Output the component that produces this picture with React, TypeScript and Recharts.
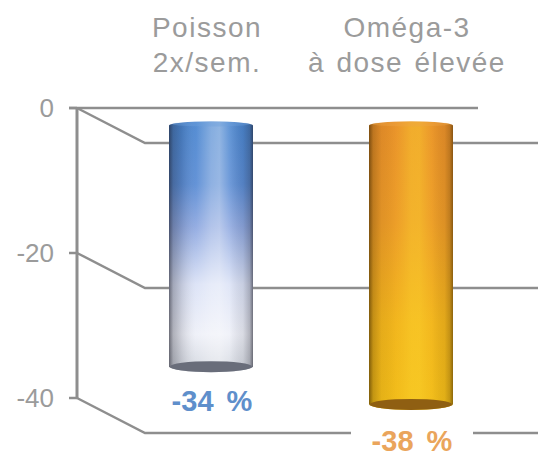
import { Bar, BarChart, CartesianGrid, LabelList, XAxis, YAxis } from "recharts";

const categories = ["Poisson|2x/sem.", "Oméga-3|à dose élevée"];
// bar ends as drawn in the picture, the printed labels differ slightly
const barValues = [-33.2, -38.4];
const valueLabels = ["-34 %", "-38 %"];
const labelColors = ["#5f8fcb", "#eaa55c"];
const yTicks = [0, -20, -40];

const bodyFills = ["url(#blueBody)", "url(#orangeBody)"];
const shadeFills = ["url(#blueShade)", "url(#orangeShade)"];
const capColors = ["#696d7a", "#8f5f12"];
const topColors = ["#6f9fdc", "#eea646"];

const FONT = "'Liberation Sans', Arial, sans-serif";
const LINE = "#8e8e8e";
const TEXT = "#9b9b9b";
// half of the floor depth, bars stand in the middle of it
const DX = 34;
const DY = 17.5;

const data = categories.map((name, i) => ({ name, value: barValues[i] }));

function Cylinder(props: any) {
  const { x, y, width, height, index } = props;
  const left = x + DX;
  const right = left + width;
  const top = Math.min(y, y + height) + DY;
  const bottom = Math.max(y, y + height) + DY;
  const rx = width / 2;
  const d = `M${left} ${top} A${rx} 4 0 0 1 ${right} ${top} L${right} ${bottom} A${rx} 6 0 0 1 ${left} ${bottom} Z`;
  return (
    <g>
      <path d={d} fill={bodyFills[index]} />
      <path d={d} fill={shadeFills[index]} />
      <ellipse cx={left + rx} cy={top - 1.5} rx={rx - 3} ry={2.5} fill={topColors[index]} opacity={0.4} />
      <ellipse cx={left + rx} cy={bottom + 0.5} rx={rx - 1} ry={5.5} fill={capColors[index]} />
    </g>
  );
}

function GridLine(props: any) {
  const { x1, y1, x2 } = props;
  const isTop = y1 === 108;
  return (
    <g fill="none" stroke={LINE}>
      {isTop && <line x1={x1 - 8} y1={y1} x2={x2 + 1} y2={y1} strokeWidth={2.5} />}
      <polyline points={`${x1},${y1} ${x1 + 68},${y1 + 35} 538,${y1 + 35}`} strokeWidth={2.5} />
    </g>
  );
}

function CategoryTick(props: any) {
  const { x, payload } = props;
  const lines = String(payload.value).split("|");
  return (
    <g>
      {lines.map((line, i) => (
        <text
          key={line}
          x={x + 30}
          y={37 + i * 35}
          textAnchor="middle"
          fontFamily={FONT}
          fontSize={28}
          letterSpacing={1.5}
          wordSpacing={2}
          fill={TEXT}
        >
          {line}
        </text>
      ))}
    </g>
  );
}

function ValueLabel(props: any) {
  const { x, y, width, height, index } = props;
  const cx = x + width / 2 + DX + 1;
  const bottom = Math.max(y, y + height) + DY;
  const baseline = bottom + (index === 0 ? 45 : 47);
  return (
    <g>
      <rect x={cx - 61} y={baseline - 24} width={122} height={28} fill="#fff" />
      <text
        x={cx}
        y={baseline}
        textAnchor="middle"
        fontFamily={FONT}
        fontSize={29}
        fontWeight="bold"
        wordSpacing={5}
        fill={labelColors[index]}
      >
        {valueLabels[index]}
      </text>
    </g>
  );
}

export default function App() {
  return (
    <div style={{ position: "absolute", left: 0, top: 0, width: 538, height: 459, background: "#fff" }}>
      <BarChart
        width={538}
        height={459}
        data={data}
        margin={{ top: 0, right: 61, bottom: 61, left: 0 }}
        barSize={84}
      >
        <defs>
          <linearGradient id="blueBody" x1="0" y1="0" x2="0" y2="1">
            <stop offset="0" stopColor="#4a86d0" />
            <stop offset="0.25" stopColor="#5a8cd4" />
            <stop offset="0.42" stopColor="#8ea8e0" />
            <stop offset="0.65" stopColor="#dbe2f6" />
            <stop offset="0.85" stopColor="#eef0f8" />
            <stop offset="1" stopColor="#d2d6de" />
          </linearGradient>
          <linearGradient id="orangeBody" x1="0" y1="0" x2="0" y2="1">
            <stop offset="0" stopColor="#e88f2a" />
            <stop offset="0.35" stopColor="#eb9a28" />
            <stop offset="0.7" stopColor="#f1b41c" />
            <stop offset="1" stopColor="#f0bc18" />
          </linearGradient>
          <linearGradient id="blueShade" x1="0" y1="0" x2="1" y2="0">
            <stop offset="0" stopColor="#1c1c28" stopOpacity={0.62} />
            <stop offset="0.05" stopColor="#1c1c28" stopOpacity={0.3} />
            <stop offset="0.15" stopColor="#1c1c28" stopOpacity={0.14} />
            <stop offset="0.32" stopColor="#ffffff" stopOpacity={0.06} />
            <stop offset="0.5" stopColor="#ffffff" stopOpacity={0.32} />
            <stop offset="0.6" stopColor="#ffffff" stopOpacity={0.38} />
            <stop offset="0.72" stopColor="#ffffff" stopOpacity={0.14} />
            <stop offset="0.88" stopColor="#1c1c28" stopOpacity={0.1} />
            <stop offset="0.96" stopColor="#1c1c28" stopOpacity={0.28} />
            <stop offset="1" stopColor="#1c1c28" stopOpacity={0.6} />
          </linearGradient>
          <linearGradient id="orangeShade" x1="0" y1="0" x2="1" y2="0">
            <stop offset="0" stopColor="#3a2400" stopOpacity={0.62} />
            <stop offset="0.05" stopColor="#3a2400" stopOpacity={0.25} />
            <stop offset="0.15" stopColor="#3a2400" stopOpacity={0.06} />
            <stop offset="0.32" stopColor="#ffd030" stopOpacity={0.08} />
            <stop offset="0.5" stopColor="#ffd830" stopOpacity={0.4} />
            <stop offset="0.6" stopColor="#ffd830" stopOpacity={0.42} />
            <stop offset="0.75" stopColor="#ffd030" stopOpacity={0.12} />
            <stop offset="0.9" stopColor="#3a2400" stopOpacity={0.08} />
            <stop offset="0.96" stopColor="#3a2400" stopOpacity={0.24} />
            <stop offset="1" stopColor="#3a2400" stopOpacity={0.55} />
          </linearGradient>
        </defs>
        <CartesianGrid vertical={false} horizontal={GridLine} />
        <XAxis
          dataKey="name"
          orientation="top"
          height={108}
          axisLine={false}
          tickLine={false}
          interval={0}
          tick={CategoryTick}
        />
        <YAxis
          type="number"
          domain={[-40, 0]}
          ticks={yTicks}
          width={77}
          interval={0}
          tickSize={8}
          tickMargin={15}
          axisLine={{ stroke: LINE, strokeWidth: 3 }}
          tickLine={{ stroke: LINE, strokeWidth: 2.5 }}
          tick={{ fill: TEXT, fontSize: 26, fontFamily: FONT }}
        />
        <Bar dataKey="value" shape={Cylinder} isAnimationActive={false}>
          <LabelList dataKey="value" content={ValueLabel} />
        </Bar>
      </BarChart>
    </div>
  );
}
